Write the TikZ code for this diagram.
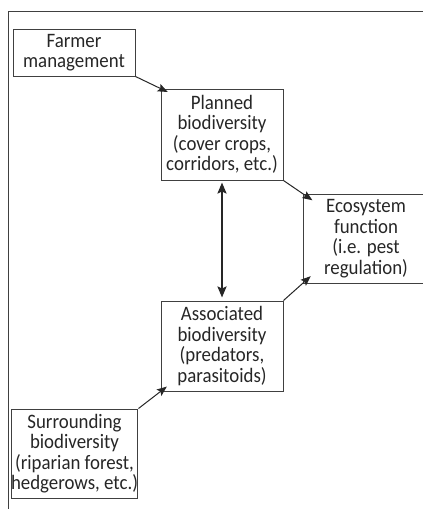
\documentclass[tikz,border=0pt]{standalone}
\usepackage{fontspec}
\setmainfont{Carlito}[FakeStretch=0.92]
\usetikzlibrary{arrows.meta}
\tikzset{
  box/.style={draw=black!75, line width=1pt, inner sep=0pt, align=center,
    font=\fontsize{20.5}{20.5}\selectfont, text=black!85},
  link/.style={draw=black!85, line width=1pt, -{Stealth[length=10pt,width=8pt,inset=2pt]}},
  bilink/.style={draw=black!85, line width=2pt, {Stealth[length=11pt,width=9pt,inset=2pt]}-{Stealth[length=11pt,width=9pt,inset=2pt]}},
  frame/.style={draw=black!75, line width=1pt}
}
\begin{document}
\begin{tikzpicture}[x=1pt,y=-1pt]
\clip (0,0) rectangle (423,509);
\path[use as bounding box] (0,0) rectangle (423,509);
\draw[frame] (8,512) -- (8,11) -- (430,11);
\node[box, minimum width=122pt, minimum height=47pt] (farmer) at (74,52.5) {Farmer\\management};
\node[box, minimum width=122pt, minimum height=91pt] (planned) at (222,134.5) {Planned\\biodiversity\\(cover crops,\\corridors, etc.)};
\node[box, minimum width=126pt, minimum height=89pt] (eco) at (366,238.5) {Ecosystem\\function\\(i.e. pest\\regulation)};
\node[box, minimum width=122pt, minimum height=90pt] (assoc) at (222,346) {Associated\\biodiversity\\(predators,\\parasitoids)};
\node[box, minimum width=121pt, minimum height=89pt] (surr) at (74.5,453.5) {Surrounding\\biodiversity\\(riparian forest,\\hedgerows, etc.)};
\draw[link, shorten >=-8pt] (farmer.south east) -- (planned.north west);
\draw[link, shorten >=-12pt] (planned.south east) -- (eco.north west);
\draw[link, shorten >=-11pt] (assoc.north east) -- (eco.south west);
\draw[link, shorten >=-8pt] (surr.north east) -- (assoc.south west);
\draw[bilink, shorten <=2pt, shorten >=3pt] (planned.south) -- (assoc.north);
\end{tikzpicture}
\end{document}
